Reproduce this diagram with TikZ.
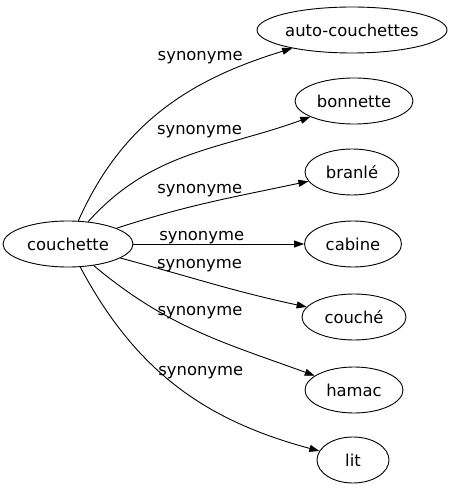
\documentclass[tikz,border=0pt]{standalone}
\usepackage{fontspec}
\setmainfont{DejaVu Sans}
\usetikzlibrary{arrows.meta,shapes.geometric}

\begin{document}
\begin{tikzpicture}[x=1pt,y=1pt,
  word/.style={ellipse,draw=black,line width=0.9pt,inner sep=0pt,minimum height=46pt,
    font=\fontsize{16.4pt}{19pt}\selectfont},
  syn/.style={->,>={Triangle[length=10pt,width=7pt]},line width=0.9pt},
  lab/.style={font=\fontsize{16.4pt}{19pt}\selectfont,inner sep=1pt}]
\useasboundingbox (0,0) rectangle (455,491);
% \draw[help lines] (0,0) grid[step=50] (455,491);
\node (couchette) [word,minimum width=130pt] at (68,247) {couchette};
\node (autoc) [word,minimum width=190pt] at (352,461) {auto-couchettes};
\node (bonnette) [word,minimum width=118pt] at (354,390) {bonnette};
\node (branle) [word,minimum width=94pt] at (352,319) {branlé};
\node (cabine) [word,minimum width=97pt] at (353,247) {cabine};
\node (couche) [word,minimum width=104pt] at (354,174) {couché};
\node (hamac) [word,minimum width=98pt] at (354,101) {hamac};
\node (lit) [word,minimum width=72pt] at (353,31) {lit};
%
\path[syn](couchette) edge[out=66,in=197] node[lab,pos=0.5,above=4pt,xshift=37pt,yshift=40pt] {synonyme} (autoc);
\path[syn](couchette) edge[out=48,in=200] node[lab,pos=0.5,above=4pt,xshift=10pt,yshift=11pt] {synonyme} (bonnette);
\path[syn](couchette) edge[out=18,in=192] node[lab,pos=0.45,above=2pt,xshift=-3pt,yshift=4pt] {synonyme} (branle);
\path[syn](couchette) edge node[lab,pos=0.4,above,yshift=-1pt] {synonyme} (cabine);
\path[syn](couchette) edge[out=-15,in=168] node[lab,pos=0.42,above=2pt,yshift=5pt] {synonyme} (couche);
\path[syn](couchette) edge[out=-40,in=160] node[lab,pos=0.5,above=4pt,xshift=2pt,yshift=7pt] {synonyme} (hamac);
\path[syn](couchette) edge[out=-62,in=165] node[lab,pos=0.5,above=4pt,xshift=23pt,yshift=2pt] {synonyme} (lit);
\end{tikzpicture}
\end{document}
